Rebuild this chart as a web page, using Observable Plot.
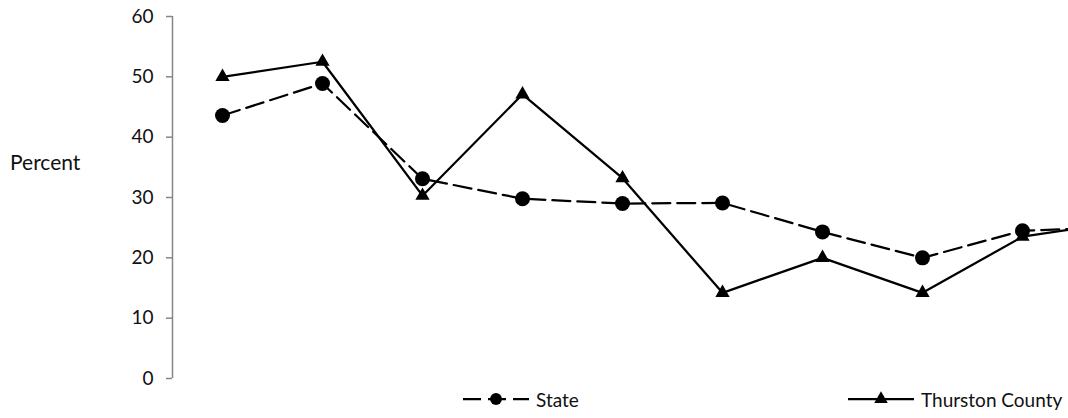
<!DOCTYPE html>
<html>
<head>
<meta charset="utf-8">
<script src="https://cdn.jsdelivr.net/npm/d3@7"></script>
<script src="https://cdn.jsdelivr.net/npm/@observablehq/plot@0.6"></script>
<style>
  html, body { margin: 0; padding: 0; background: #fff; overflow: hidden; }
  body { width: 1068px; height: 418px; position: relative; font-family: Lato, "Open Sans", sans-serif; }
  #chart { position: absolute; left: 0; top: 0; }
  #ylabel { position: absolute; left: 10px; top: 149px; font-size: 21px; color: #111; }
  .legend { position: absolute; top: 386px; height: 26px; display: flex; align-items: center; font-size: 19px; color: #111; white-space: nowrap; }
  .legend svg { display: block; margin-right: 6px; }
</style>
</head>
<body>
<div id="chart"></div>
<div id="ylabel">Percent</div>
<div class="legend" id="legState" style="left:462px"></div>
<div class="legend" id="legCounty" style="left:847px"></div>
<script>
// Data (categories unlabeled in the reference)
const categories = ["1", "2", "3", "4", "5", "6", "7", "8", "9", "10"];
const stateValues = [43.6, 48.9, 33.1, 29.8, 29.0, 29.1, 24.3, 20.0, 24.5, 25.1];
const countyValues = [50.0, 52.5, 30.3, 47.1, 33.2, 14.2, 20.0, 14.2, 23.5, 26.0];
const yTicks = [0, 10, 20, 30, 40, 50, 60];
const seriesNames = ["State", "Thurston County"];

const rows = [];
categories.forEach((c, i) => {
  rows.push({series: seriesNames[0], i, value: stateValues[i]});
  rows.push({series: seriesNames[1], i, value: countyValues[i]});
});
const stateRows = rows.filter(d => d.series === seriesNames[0]);
const countyRows = rows.filter(d => d.series === seriesNames[1]);

const plot = Plot.plot({
  width: 1068,
  height: 388,
  marginLeft: 172,
  marginRight: 0,
  marginTop: 16,
  marginBottom: 10,
  style: {fontFamily: "Lato, 'Open Sans', sans-serif", fontSize: "19px", color: "#111", background: "#fff"},
  x: {type: "linear", domain: [-0.5, 9.5], range: [172, 1172], axis: null},
  y: {domain: [0, 60], range: [378, 16], axis: null},
  marks: [
    Plot.ruleX([-0.5], {y1: 0, y2: 60, stroke: "#868686", strokeWidth: 1.5}),
    Plot.axisY({ticks: yTicks, tickSize: 6, tickPadding: 13, stroke: "#868686", strokeWidth: 1.5, strokeOpacity: 1, fill: "#111", fontSize: 19, label: null}),
    Plot.line(stateRows, {x: "i", y: "value", stroke: "#000", strokeWidth: 2.25, strokeDasharray: "18,7", clip: true}),
    Plot.line(countyRows, {x: "i", y: "value", stroke: "#000", strokeWidth: 2.25, clip: true}),
    Plot.dot(stateRows, {x: "i", y: "value", r: 7.5, fill: "#000", symbol: "circle", clip: true}),
    Plot.dot(countyRows, {x: "i", y: "value", r: 5.3, fill: "#000", symbol: "triangle", clip: true})
  ]
});
document.getElementById("chart").appendChild(plot);

// Legend
function legendSwatch(dashed, symbol) {
  const w = 68, h = 20;
  const svg = d3.create("svg").attr("width", w).attr("height", h);
  svg.append("line").attr("x1", 1).attr("x2", w - 1).attr("y1", h / 2).attr("y2", h / 2)
    .attr("stroke", "#000").attr("stroke-width", 2.25)
    .attr("stroke-dasharray", dashed ? "18,7" : null);
  svg.append("path")
    .attr("transform", `translate(${w / 2},${h / 2})`)
    .attr("d", d3.symbol(symbol === "circle" ? d3.symbolCircle : d3.symbolTriangle, symbol === "circle" ? 110 : 80)())
    .attr("fill", "#000");
  return svg.node();
}
const ls = document.getElementById("legState");
ls.appendChild(legendSwatch(true, "circle"));
ls.appendChild(document.createTextNode(seriesNames[0]));
const lc = document.getElementById("legCounty");
lc.appendChild(legendSwatch(false, "triangle"));
lc.appendChild(document.createTextNode(seriesNames[1]));
</script>
</body>
</html>
